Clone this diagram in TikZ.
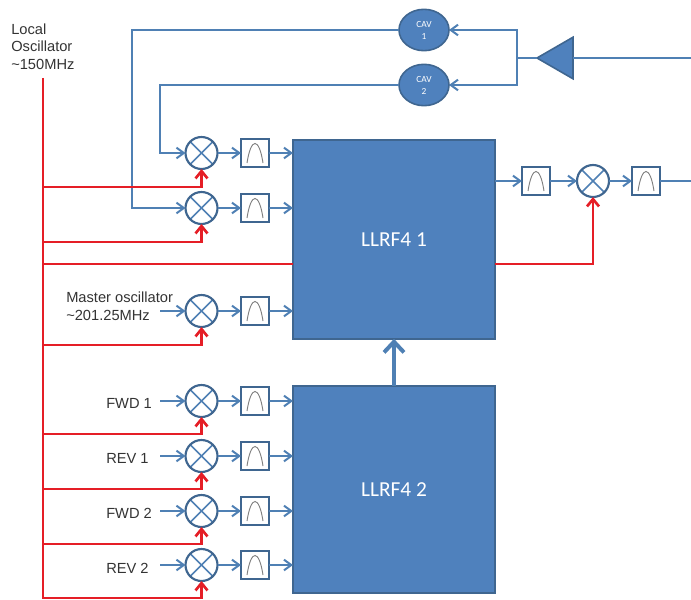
\documentclass[tikz,border=0pt]{standalone}
\usepackage{fontspec}
\setmainfont{Liberation Sans}
\newfontfamily\boxfont{Carlito}
\usetikzlibrary{calc, positioning, arrows.meta, shapes.geometric}
\definecolor{box blue}{HTML}{4F81BD}
\definecolor{edge blue}{HTML}{3F6690}
\definecolor{wire blue}{HTML}{4F80B4}
\definecolor{lo red}{HTML}{E51E26}
\tikzset{
	x=0.75pt, y=-0.75pt,
	wire/.style={draw=wire blue, line width=1.5pt, -{Straight Barb[length=5.5pt, width=8pt, line width=1.5pt]}},
	plain wire/.style={draw=wire blue, line width=1.5pt},
	thick wire/.style={draw=wire blue, line width=3.4pt, -{Straight Barb[length=8pt, width=15pt, line width=3pt]}},
	lo/.style={draw=lo red, line width=2pt},
	lo tip/.style={lo, -{Straight Barb[length=5.5pt, width=9pt, line width=2pt]}},
	mixer/.style={circle, draw=edge blue, line width=1.6pt, fill=white, minimum size=24pt, inner sep=0pt, outer sep=0pt,
		path picture={
			\draw[wire blue, line width=1.2pt] (path picture bounding box.north west) -- (path picture bounding box.south east);
			\draw[wire blue, line width=1.2pt] (path picture bounding box.north east) -- (path picture bounding box.south west);
		}},
	bandpass/.style={rectangle, draw=edge blue, line width=1.5pt, fill=white, minimum size=21pt, inner sep=0pt, outer sep=0pt,
		path picture={
			\draw[gray, line width=0.7pt] ($(path picture bounding box.center)+(-8,10)$) .. controls ($(path picture bounding box.center)+(-4,-16)$) and ($(path picture bounding box.center)+(4,-16)$) .. ($(path picture bounding box.center)+(8,10)$);
		}},
	llrf/.style={rectangle, draw=edge blue, line width=1.2pt, fill=box blue, text=white, minimum width=151.5pt, outer sep=0pt, font=\boxfont\fontsize{16}{19}\selectfont},
	cav/.style={ellipse, draw=edge blue, line width=1.2pt, fill=box blue, text=white, minimum width=37.5pt, minimum height=31pt, inner sep=0pt, outer sep=0pt, align=center, font=\boxfont\fontsize{7}{9}\selectfont},
	signal/.style={font=\fontsize{11}{13.5}\selectfont, text=black!80, inner sep=0pt, anchor=west, align=left}
}
\begin{document}
\begin{tikzpicture}
	\useasboundingbox (0,0) rectangle (691,599);

	\path node[llrf, minimum height=149pt] (llrf 1) at (394,239.5) {LLRF4 1};
	\path node[llrf, minimum height=155pt] (llrf 2) at (394,489.5) {LLRF4 2};

	\path (201.5,153) node[mixer] (mix 1) {};
	\path (201.5,208) node[mixer] (mix 2) {};
	\path (201.5,311) node[mixer] (mix 3) {};
	\path (201.5,401) node[mixer] (mix 4) {};
	\path (201.5,456) node[mixer] (mix 5) {};
	\path (201.5,511) node[mixer] (mix 6) {};
	\path (201.5,565) node[mixer] (mix 7) {};
	\path (mix 1) ++ (53.5,0) node[bandpass] (bp 1) {};
	\path (mix 2) ++ (53.5,0) node[bandpass] (bp 2) {};
	\path (mix 3) ++ (53.5,0) node[bandpass] (bp 3) {};
	\path (mix 4) ++ (53.5,0) node[bandpass] (bp 4) {};
	\path (mix 5) ++ (53.5,0) node[bandpass] (bp 5) {};
	\path (mix 6) ++ (53.5,0) node[bandpass] (bp 6) {};
	\path (mix 7) ++ (53.5,0) node[bandpass] (bp 7) {};
	\path (536,181) node[bandpass] (bp out 1) {};
	\path (593,181) node[mixer] (mix out) {};
	\path (646,181) node[bandpass] (bp out 2) {};

	\path (424,30) node[cav] (cav 1) {CAV\\1};
	\path (424,85) node[cav] (cav 2) {CAV\\2};
	\path (561,58) node[isosceles triangle, isosceles triangle apex angle=60, shape border rotate=180, draw=edge blue, line width=1.2pt, fill=box blue, minimum height=27pt, inner sep=0pt, outer sep=0pt] (amp) {};

	\path (11,29) node[signal] (lo text 1) {Local};
	\path (11,46) node[signal] (lo text 2) {Oscillator};
	\path (11,64) node[signal] (lo text 3) {\textasciitilde150MHz};
	\path (66,306) node[signal] (mo text) {Master oscillator\\\textasciitilde201.25MHz};
	\path (106,403) node[signal] (fwd 1) {FWD 1};
	\path (106,458) node[signal] (rev 1) {REV 1};
	\path (106,513) node[signal] (fwd 2) {FWD 2};
	\path (106,568) node[signal] (rev 2) {REV 2};

	\coordinate (lo top) at (43,78);
	\coordinate (lo bottom) at (43,599);
	\coordinate (junction) at (517,58);
	\coordinate (amp end) at (691,58);
	\coordinate (bp end) at (691,181);
	\coordinate (mo start) at (160,311);
	\coordinate (fwd 1 start) at (160,401);
	\coordinate (rev 1 start) at (160,456);
	\coordinate (fwd 2 start) at (160,511);
	\coordinate (rev 2 start) at (160,565);

	\draw[plain wire] (amp.east) -- (amp end);
	\draw[plain wire] (bp out 2) -- (bp end);
	\draw[wire] (bp out 1 -| llrf 1.east) -- (bp out 1);
	\draw[wire] (bp out 1) -- (mix out);
	\draw[wire] (mix out) -- (bp out 2);

	\draw[plain wire] (amp.west) -- (junction);
	\draw[wire] (junction) |- (cav 1.east);
	\draw[wire] (junction) |- (cav 2.east);
	\draw[wire] (cav 1.west) -| (132,208) -- (mix 2.west);
	\draw[wire] (cav 2.west) -| (160,153) -- (mix 1.west);

	\draw[wire] (mo start) -- (mix 3);
	\draw[wire] (fwd 1 start) -- (mix 4);
	\draw[wire] (rev 1 start) -- (mix 5);
	\draw[wire] (fwd 2 start) -- (mix 6);
	\draw[wire] (rev 2 start) -- (mix 7);

	\draw[wire] (mix 1) -- (bp 1);
	\draw[wire] (mix 2) -- (bp 2);
	\draw[wire] (mix 3) -- (bp 3);
	\draw[wire] (mix 4) -- (bp 4);
	\draw[wire] (mix 5) -- (bp 5);
	\draw[wire] (mix 6) -- (bp 6);
	\draw[wire] (mix 7) -- (bp 7);
	\draw[wire] (bp 1) -- (bp 1 -| llrf 1.west);
	\draw[wire] (bp 2) -- (bp 2 -| llrf 1.west);
	\draw[wire] (bp 3) -- (bp 3 -| llrf 1.west);
	\draw[wire] (bp 4) -- (bp 4 -| llrf 2.west);
	\draw[wire] (bp 5) -- (bp 5 -| llrf 2.west);
	\draw[wire] (bp 6) -- (bp 6 -| llrf 2.west);
	\draw[wire] (bp 7) -- (bp 7 -| llrf 2.west);

	\draw[thick wire] (llrf 2.north) -- (llrf 1.south);

	\draw[lo] (lo top) -- (lo bottom);
	\draw[lo tip] (lo top |- 0,187) -| (mix 1.south);
	\draw[lo tip] (lo top |- 0,242) -| (mix 2.south);
	\draw[lo] (lo top |- 0,264) -- (llrf 1.west |- 0,264);
	\draw[lo tip] (lo top |- 0,345) -| (mix 3.south);
	\draw[lo tip] (lo top |- 0,434) -| (mix 4.south);
	\draw[lo tip] (lo top |- 0,489) -| (mix 5.south);
	\draw[lo tip] (lo top |- 0,544) -| (mix 6.south);
	\draw[lo tip] (lo top |- 0,598) -| (mix 7.south);
	\draw[lo tip] (llrf 1.east |- 0,264) -| (mix out.south);
\end{tikzpicture}
\end{document}
